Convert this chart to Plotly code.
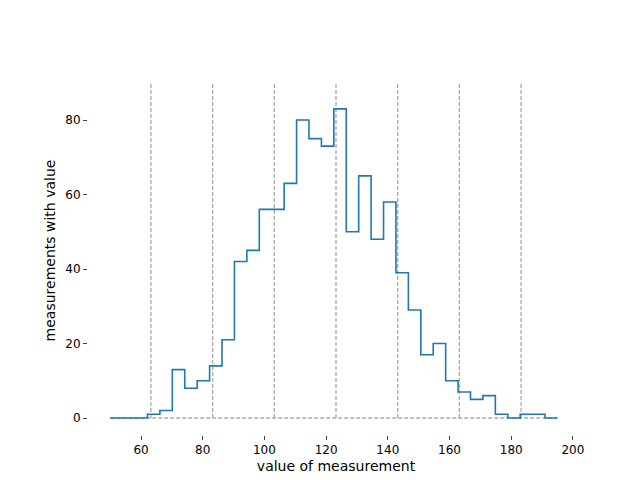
import numpy as np
import plotly.graph_objects as go

bin_start = 50.0
bin_end = 195.0
counts = [0, 0, 0, 1, 2, 13, 8, 10, 14, 21, 42, 45, 56, 56, 63, 80, 75, 73, 83,
          50, 65, 48, 58, 39, 29, 17, 20, 10, 7, 5, 6, 1, 0, 1, 1, 0]
vlines = [63.2, 83.2, 103.2, 123.2, 143.2, 163.2, 183.2]
xticks = [60, 80, 100, 120, 140, 160, 180, 200]
yticks = [0, 20, 40, 60, 80]

edges = np.linspace(bin_start, bin_end, len(counts) + 1)
ys = counts + [counts[-1]]

dash = dict(color="#aaaaaa", width=1.3, dash="4px,2px")
fig = go.Figure()
fig.add_trace(go.Scatter(x=[bin_start, bin_end], y=[0, 0], mode="lines",
                         line=dash, hoverinfo="skip"))
for v in vlines:
    fig.add_trace(go.Scatter(x=[v, v], y=[0, 90], mode="lines",
                             line=dash, hoverinfo="skip"))
fig.add_trace(go.Scatter(x=edges, y=ys, mode="lines", line_shape="hv",
                         line=dict(color="#1f77b4", width=1.6)))

fig.update_layout(
    width=640, height=480, showlegend=False,
    plot_bgcolor="white", paper_bgcolor="white",
    margin=dict(l=80, r=64, t=58, b=53),
    font=dict(family="DejaVu Sans", size=12, color="black"),
)
fig.update_xaxes(range=[42.8, 203.6], tickvals=xticks, ticks="outside", ticklen=4,
                 showgrid=False, zeroline=False, showline=False, automargin=False,
                 title=dict(text="value of measurement", standoff=4))
fig.update_yaxes(range=[-4.56, 94.5], tickvals=yticks, ticks="outside", ticklen=4,
                 showgrid=False, zeroline=False, showline=False, automargin=False,
                 title=dict(text="measurements with value", standoff=6))
fig.write_html("out.html")
